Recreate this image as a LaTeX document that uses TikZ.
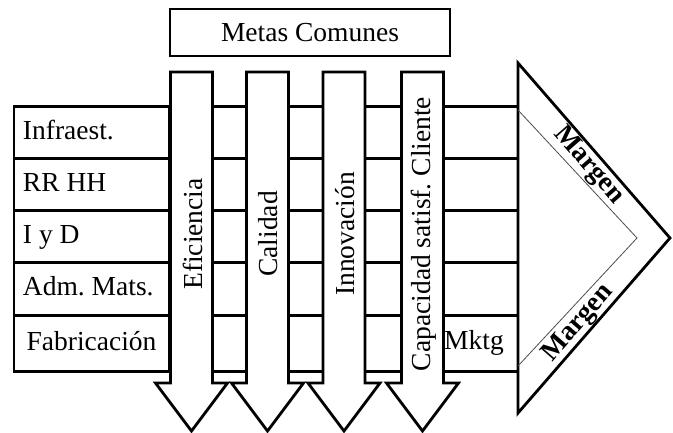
\documentclass[tikz,border=0pt]{standalone}
\usepackage{fontspec}
\setmainfont{Liberation Serif}
\usetikzlibrary{positioning}
\frenchspacing
\tikzset{
    rowbox/.style={
    rectangle,draw=black,fill=white,outer sep=0pt,anchor=north,
    text width=137pt,inner xsep=9pt,align=flush left,text height=19pt,text depth=6pt
    },
    metasbox/.style={
    rectangle,draw=black,minimum width=280pt,minimum height=47pt
    },
    goalarrow/.style={
    draw=black,fill=white
    },
    goaltext/.style={
    rotate=90,inner sep=0pt
    },
    rowline/.style={
    draw=black
    },
    margen/.style={
    font=\fontsize{27.5}{30}\selectfont\bfseries,inner sep=0pt
    },
}

\begin{document}
\begin{tikzpicture}[x=1pt,y=-1pt,line width=2.8pt,font=\fontsize{27.5}{30}\selectfont]
   \useasboundingbox (0,0) rectangle (673,432);
   % actividades
   \node[rowbox,anchor=north west,minimum height=52pt] (infra) at (14,106.5) {Infraest.};
   \node[rowbox,minimum height=52pt,below=0pt of infra] (rrhh) {RR HH};
   \node[rowbox,minimum height=52pt,below=0pt of rrhh] (iyd) {I y D};
   \node[rowbox,minimum height=53pt,below=0pt of iyd] (adm) {Adm. Mats.};
   \node[rowbox,minimum height=56pt,align=flush center,below=0pt of adm] (fab) {Fabricación};

   \coordinate (vleft) at (518,0);
   \foreach \r in {infra,rrhh,iyd,adm,fab}
     \draw[rowline] (\r.north east) -- (\r.north east -| vleft);
   \draw[rowline] (fab.south east) -- (fab.south east -| vleft);

   % metas
   \node[metasbox] (metas) at (310,32.5) {Metas Comunes};
   \foreach \cx/\txt/\nm in {191.5/Eficiencia/efi,267.5/Calidad/cal,344/Innovación/inn,422.5/{Capacidad satisf. Cliente}/cap}{
     \draw[goalarrow] (\cx-21,72) -- (\cx+21,72) -- (\cx+21,383) -- (\cx+36,383)
        -- (\cx,431) -- (\cx-36,383) -- (\cx-21,383) -- cycle;
     \node[goaltext] (\nm) at (\cx+1,234) {\txt};
   }
   \node (mktg) at (474,343) {Mktg};

   % margen
   \coordinate (chtop) at (518,63);
   \coordinate (chtip) at (670,238);
   \coordinate (chbot) at (518,413);
   \coordinate (intop) at (518,110);
   \coordinate (inmid) at (637,238);
   \coordinate (inbot) at (518,366);
   \draw (chtop) -- (chtip) -- (chbot) -- cycle;
   \draw[line width=0.8pt,black!70] (intop) -- (inmid) -- (inbot);
   \node[margen,rotate=-49] (margtop) at (588.5,165.5) {Margen};
   \node[margen,rotate=49] (margbot) at (578.5,323.5) {Margen};
\end{tikzpicture}
\end{document}
